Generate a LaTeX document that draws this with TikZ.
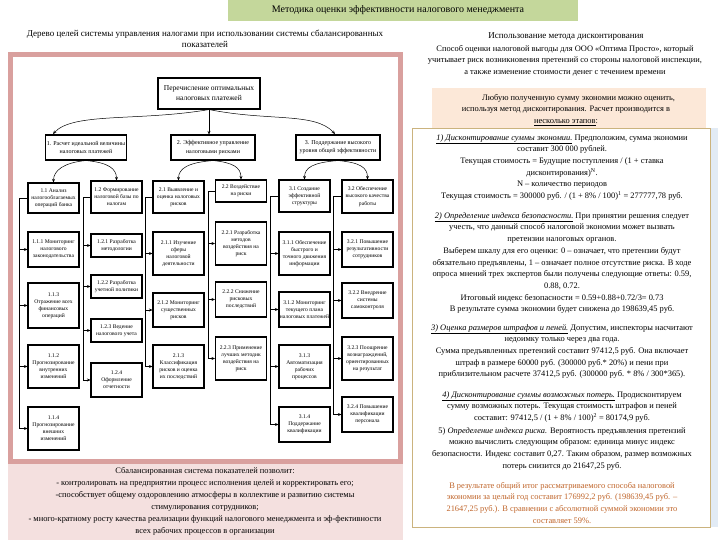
\documentclass[tikz,border=0pt]{standalone}
\usepackage{fontspec}
\setmainfont{Liberation Serif}
\usetikzlibrary{arrows.meta,calc}
\definecolor{titlegreen}{HTML}{C4D79B}
\definecolor{framepink}{HTML}{D9A09E}
\definecolor{lightpink}{HTML}{F4E0DF}
\definecolor{peach}{HTML}{FCE8D8}
\definecolor{goldline}{HTML}{CBB37E}
\definecolor{paleblue}{HTML}{E2EBF5}
\definecolor{orangetxt}{HTML}{C0652A}
\tikzset{
  tbox/.style={draw, line width=1.1pt, fill=white, align=center, inner sep=1pt,
    minimum width=51pt, font=\fontsize{5.6}{7.1}\selectfont},
  lbox/.style={draw, line width=1.1pt, fill=white, align=center, inner sep=1pt,
    minimum height=25pt, font=\fontsize{6}{8.2}\selectfont},
  arr/.style={-{Stealth[length=3.5pt,width=3pt]}, line width=0.5pt},
  ln/.style={line width=0.5pt},
  rtext/.style={anchor=north, align=center, inner sep=0pt, font=\fontsize{8.4}{11.7}\selectfont},
  btext/.style={anchor=north, align=center, inner sep=0pt, font=\fontsize{8.4}{12}\selectfont},
}
\begin{document}
\begin{tikzpicture}[x=1pt,y=-1pt]
\useasboundingbox (0,0) rectangle (720,540);
\fill[white] (0,0) rectangle (720,540);

% title
\fill[titlegreen] (228,0) rectangle (578,21);
\node[font=\fontsize{10}{12}\selectfont] (title) at (398,10) {Методика оценки эффективности налогового менеджмента};

% left header
\node[anchor=north, align=center, inner sep=0pt, font=\fontsize{9}{11}\selectfont] (lhead) at (205,30)
  {Дерево целей системы управления налогами при использовании системы сбалансированных\\показателей};

% right header
\node[font=\fontsize{9}{11}\selectfont] (rhead) at (566,37) {Использование метода дисконтирования};
\node[rtext] (rintro) at (565,45)
  {Способ оценки налоговой выгоды для ООО «Оптима Просто», который\\
   учитывает риск возникновения претензий со стороны налоговой инспекции,\\
   а также изменение стоимости денег с течением времени};

% pink frame and bottom box
\fill[lightpink] (8,462) rectangle (403,540);
\draw[framepink, line width=5pt] (10.5,54.5) rectangle (400.5,461);

% peach box
\fill[peach] (432,88) rectangle (706,128);
\node[rtext] (peachtxt) at (566,94)
  {\hspace*{3em}Любую полученную сумму экономии можно оценить,\\
   используя метод дисконтирования. Расчет производится в\\
   \underline{несколько этапов}:};

% right main box
\fill[paleblue] (710,128) rectangle (718,527);
\draw[goldline, line width=0.8pt, fill=white] (412,128) rectangle (710,527);

\node[rtext] (s1) at (562,134)
  {\underline{\textit{1) Дисконтирование суммы экономии.}} Предположим, сумма экономии\\
   составит 300 000 рублей.\\
   Текущая стоимость = Будущие поступления / (1 + ставка\\
   дисконтирования)\textsuperscript{N}.\\
   N – количество периодов\\
   Текущая стоимость = 300000 руб. / (1 + 8\% / 100)\textsuperscript{1} = 277777,78 руб.};

\node[rtext] (s2) at (562,212)
  {\underline{\textit{2) Определение индекса безопасности.}} При принятии решения следует\\
   учесть, что данный способ налоговой экономии может вызвать\\
   претензии налоговых органов.\\
   Выберем шкалу для его оценки: 0 – означает, что претензии будут\\
   обязательно предъявлены, 1 – означает полное отсутствие риска. В ходе\\
   опроса мнений трех экспертов были получены следующие ответы: 0.59,\\
   0.88, 0.72.\\
   Итоговый индекс безопасности = 0.59+0.88+0.72/3= 0.73\\
   В результате сумма экономии будет снижена до 198639,45 руб.};

\node[rtext] (s3) at (562,324)
  {\underline{\textit{3) Оценка размеров штрафов и пеней.}} Допустим, инспекторы насчитают\\
   недоимку только через два года.\\
   Сумма предъявленных претензий составит 97412,5 руб. Она включает\\
   штраф в размере 60000 руб. (300000 руб.* 20\%) и пени при\\
   приблизительном расчете 37412,5 руб. (300000 руб. * 8\% / 300*365).};

\node[rtext] (s4) at (562,391)
  {\underline{\textit{4) Дисконтирование суммы возможных потерь.}} Продисконтируем\\
   сумму возможных потерь. Текущая стоимость штрафов и пеней\\
   составит: 97412,5 / (1 + 8\% / 100)\textsuperscript{2} = 80174,9 руб.};

\node[rtext] (s5) at (562,427)
  {5) \textit{Определение индекса риска.} Вероятность предъявления претензий\\
   можно вычислить следующим образом: единица минус индекс\\
   безопасности. Индекс составит 0,27. Таким образом, размер возможных\\
   потерь снизится до 21647,25 руб.};

\node[rtext, text=orangetxt] (res) at (562,482)
  {В результате общий итог рассматриваемого способа налоговой\\
   экономии за целый год составит 176992,2 руб. (198639,45 руб. –\\
   21647,25 руб.). В сравнении с абсолютной суммой экономии это\\
   составляет 59\%.};

% bottom left text
\node[btext] (btxt) at (205,467)
  {Сбалансированная система показателей позволит:\\
   - контролировать на предприятии процесс исполнения целей и корректировать его;\\
   -способствует общему оздоровлению атмосферы в коллективе и развитию системы\\
   стимулирования сотрудников;\\
   - много-кратному росту качества реализации функций налогового менеджмента и эф-фективности\\
   всех рабочих процессов в организации};

% ---------------- tree ----------------
\node[draw, line width=1.1pt, fill=white, align=center, minimum width=102pt, minimum height=31pt,
  font=\fontsize{7.5}{10}\selectfont] (root) at (209,93.5)
  {Перечисление оптимальных\\налоговых платежей};

\node[lbox, minimum width=78pt] (l1a) at (86,147.5) {1. Расчет идеальной величины\\налоговых платежей};
\node[lbox, minimum width=84pt] (l1b) at (213,147.5) {2. Эффективное управление\\налоговыми рисками};
\node[lbox, minimum width=84pt] (l1c) at (338,147.5) {3. Поддержание высокого\\уровня общей эффективности};

% level 2
\node[tbox, minimum height=30pt] (p11) at (53.5,198) {1.1 Анализ\\налогооблагаемых\\операций банка};
\node[tbox, minimum height=32pt] (p12) at (116.5,197) {1.2 Формирование\\налоговой базы по\\налогам};
\node[tbox, minimum height=32pt] (p21) at (178.5,197) {2.1 Выявление и\\оценка налоговых\\рисков};
\node[tbox, minimum height=22pt] (p22) at (241,191) {2.2 Воздействие\\на риски};
\node[tbox, minimum height=32pt] (p31) at (304.5,196) {3.1 Создание\\эффективной\\структуры};
\node[tbox, minimum height=33pt] (p32) at (367.5,196.5) {3.2 Обеспечение\\высокого качества\\работы};

% column 1
\node[tbox, minimum height=35pt] (c111) at (53.5,249.5) {1.1.1 Мониторинг\\налогового\\законодательства};
\node[tbox, minimum height=45pt] (c113) at (53.5,305.5) {1.1.3\\Отражение всех\\финансовых\\операций};
\node[tbox, minimum height=43pt] (c112) at (53.5,366.5) {1.1.2\\Прогнозирование\\внутренних\\изменений};
\node[tbox, minimum height=43pt] (c114) at (53.5,428.5) {1.1.4\\Прогнозирование\\внешних\\изменений};
% column 2
\node[tbox, minimum height=23pt] (c121) at (116.5,245.5) {1.2.1 Разработка\\методологии};
\node[tbox, minimum height=23pt] (c122) at (116.5,286.5) {1.2.2 Разработка\\учетной политики};
\node[tbox, minimum height=23pt] (c123) at (116.5,330.5) {1.2.3 Ведение\\налогового учета};
\node[tbox, minimum height=34pt] (c124) at (116.5,380) {1.2.4\\Оформление\\отчетности};
% column 3
\node[tbox, minimum height=43pt] (c211) at (178.5,253.5) {2.1.1 Изучение\\сферы\\налоговой\\деятельности};
\node[tbox, minimum height=34pt] (c212) at (178.5,310) {2.1.2 Мониторинг\\существенных\\рисков};
\node[tbox, minimum height=43pt] (c213) at (178.5,366.5) {2.1.3\\Классификация\\рисков и оценка\\их последствий};
% column 4
\node[tbox, minimum height=43pt] (c221) at (241,243.5) {2.2.1 Разработка\\методов\\воздействия на\\риск};
\node[tbox, minimum height=35pt] (c222) at (241,299.5) {2.2.2 Снижение\\рисковых\\последствий};
\node[tbox, minimum height=43pt] (c223) at (241,358.5) {2.2.3 Применение\\лучших методик\\воздействия на\\риск};
% column 5
\node[tbox, minimum height=43pt] (c311) at (304.5,253.5) {3.1.1 Обеспечение\\быстрого и\\точного движения\\информации};
\node[tbox, minimum height=35pt] (c312) at (304.5,309.5) {3.1.2 Мониторинг\\текущего плана\\налоговых платежей};
\node[tbox, minimum height=43pt] (c313) at (304.5,366.5) {3.1.3\\Автоматизация\\рабочих\\процессов};
\node[tbox, minimum height=35pt] (c314) at (304.5,424.5) {3.1.4\\Поддержание\\квалификации};
% column 6
\node[tbox, minimum height=35pt] (c321) at (367.5,249.5) {3.2.1 Повышение\\результативности\\сотрудников};
\node[tbox, minimum height=35pt] (c322) at (367.5,300.5) {3.2.2 Внедрение\\системы\\самоконтроля};
\node[tbox, minimum height=43pt] (c323) at (367.5,358.5) {3.2.3 Поощрение\\вознаграждений,\\ориентированных\\на результат};
\node[tbox, minimum height=35pt] (c324) at (367.5,414.5) {3.2.4 Повышение\\квалификации\\персонала};

% root -> level 1
\coordinate (ta) at (53,134);
\coordinate (tc) at (335,134);
\draw[arr] (root.south) .. controls +(-70,12) and +(20,-22) .. (ta);
\draw[arr] (root.south) -- (root.south |- l1b.north);
\draw[arr] (root.south) .. controls +(60,12) and +(-20,-22) .. (tc);

% level 1 -> level 2
\draw[arr] (l1a.south) .. controls +(-22,2) and +(0,-12) .. (p11.north);
\draw[arr] (l1a.south) .. controls +(22,2) and +(0,-12) .. (p12.north);
\draw[arr] (l1b.south) .. controls +(-25,2) and +(0,-12) .. (p21.north);
\draw[arr] (l1b.south) .. controls +(20,2) and +(0,-12) .. (p22.north);
\draw[arr] (l1c.south) .. controls +(-25,2) and +(0,-12) .. (p31.north);
\draw[arr] (l1c.south) .. controls +(22,2) and +(0,-12) .. (p32.north);

% vertical spines
\coordinate (v1) at (19,0);
\coordinate (v2) at (83,0);
\coordinate (v3) at (145,0);
\coordinate (v4) at (208,0);
\coordinate (v5) at (270,0);
\coordinate (v6) at (333,0);

\draw[ln] (p11.west) -| (v1 |- c114.west);
\foreach \c in {c111,c113,c112,c114} \draw[arr] (v1 |- \c.west) -- (\c.west);
\draw[ln] (p12.west) -| (v2 |- c124.west);
\foreach \c in {c121,c122,c123,c124} \draw[arr] (v2 |- \c.west) -- (\c.west);
\draw[ln] (p21.west) -| (v3 |- c213.west);
\foreach \c in {c211,c212,c213} \draw[arr] (v3 |- \c.west) -- (\c.west);
\draw[ln] (p22.west) -| (v4 |- c223.west);
\foreach \c in {c221,c222,c223} \draw[arr] (v4 |- \c.west) -- (\c.west);
\draw[ln] (p31.west) -| (v5 |- c314.west);
\foreach \c in {c311,c312,c313,c314} \draw[arr] (v5 |- \c.west) -- (\c.west);
\draw[ln] (p32.west) -| (v6 |- c324.west);
\foreach \c in {c321,c322,c323,c324} \draw[arr] (v6 |- \c.west) -- (\c.west);
\end{tikzpicture}
\end{document}
